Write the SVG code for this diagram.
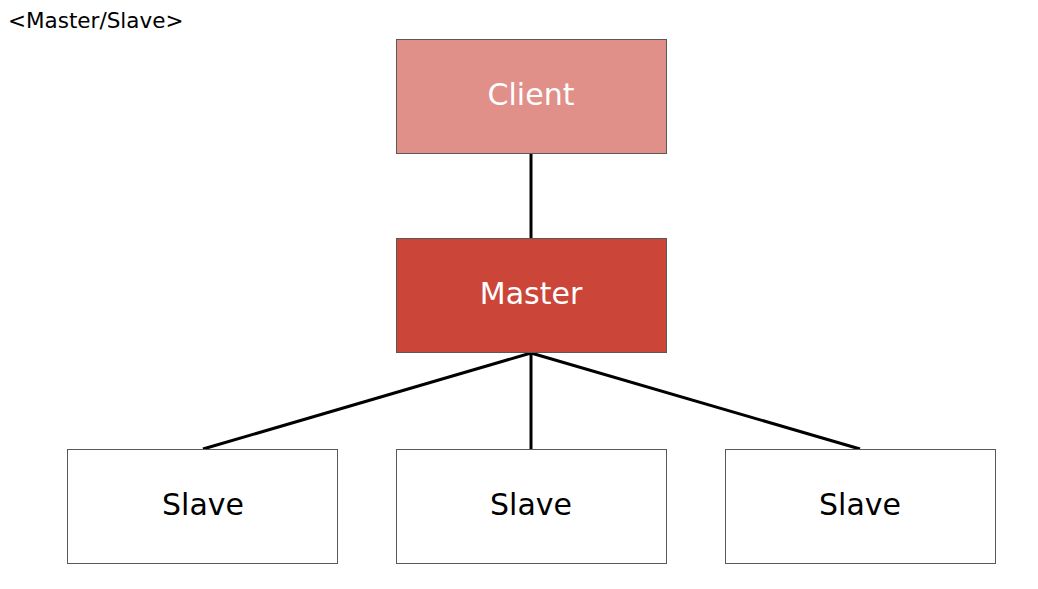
<svg xmlns="http://www.w3.org/2000/svg" width="1038" height="589" viewBox="0 0 1038 589">
<style>
.box{stroke:#595959;stroke-width:1}
.lbl{font-family:"DejaVu Sans","Liberation Sans",sans-serif;font-size:30px;text-anchor:middle;dominant-baseline:central}
.conn{stroke:#000;stroke-width:3;fill:none}
</style>
<rect width="1038" height="589" fill="#fff"/>
<text x="8" y="28" font-family="DejaVu Sans, Liberation Sans, sans-serif" font-size="21.5">&lt;Master/Slave&gt;</text>
<g id="connectors">
<line class="conn" x1="531" y1="153" x2="531" y2="238"/>
<line class="conn" x1="531" y1="353" x2="203" y2="449"/>
<line class="conn" x1="531" y1="353" x2="531" y2="449"/>
<line class="conn" x1="531" y1="353" x2="860" y2="449"/>
</g>
<g id="client"><rect class="box" x="396.5" y="39.5" width="270" height="114" fill="#E09088"/><text class="lbl" x="531" y="94" fill="#fff">Client</text></g>
<g id="master"><rect class="box" x="396.5" y="238.5" width="270" height="114" fill="#CB4638"/><text class="lbl" x="531" y="293" fill="#fff">Master</text></g>
<g id="slave1"><rect class="box" x="67.5" y="449.5" width="270" height="114" fill="#fff"/><text class="lbl" x="203" y="504" fill="#000">Slave</text></g>
<g id="slave2"><rect class="box" x="396.5" y="449.5" width="270" height="114" fill="#fff"/><text class="lbl" x="531" y="504" fill="#000">Slave</text></g>
<g id="slave3"><rect class="box" x="725.5" y="449.5" width="270" height="114" fill="#fff"/><text class="lbl" x="860" y="504" fill="#000">Slave</text></g>
</svg>
